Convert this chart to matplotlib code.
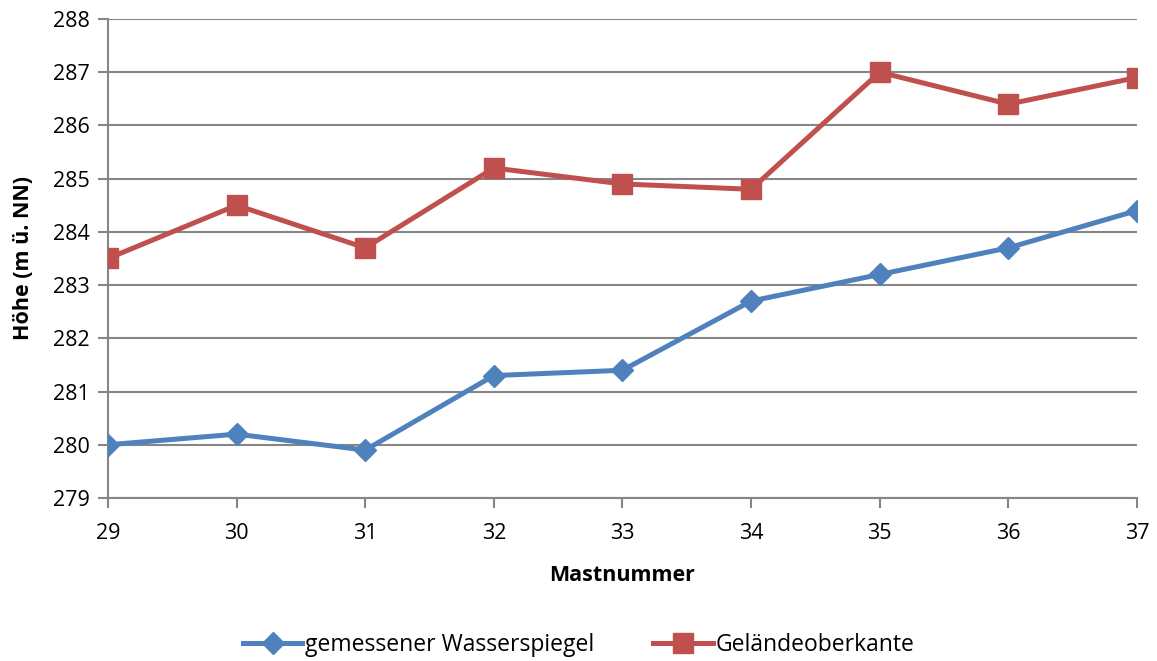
import matplotlib.pyplot as plt

# Messwerte je Mast
mast = [29, 30, 31, 32, 33, 34, 35, 36, 37]
wasserspiegel = [280.0, 280.2, 279.9, 281.3, 281.4, 282.7, 283.2, 283.7, 284.4]
gelaende = [283.5, 284.5, 283.7, 285.2, 284.9, 284.8, 287.0, 286.4, 286.9]

plt.rcParams['font.family'] = ['Open Sans', 'DejaVu Sans']
grey = '#868686'
fs = 15.5

fig = plt.figure(figsize=(11.57, 6.61), dpi=100)
ax = fig.add_axes([0.0933, 0.2466, 0.8894, 0.7247])

ax.plot(mast, wasserspiegel, color='#4F81BD', lw=3.6, marker='D', ms=11,
        label='gemessener Wasserspiegel', zorder=3)
ax.plot(mast, gelaende, color='#C0504D', lw=3.6, marker='s', ms=14,
        label='Geländeoberkante', zorder=3)

ax.set_xlim(29, 37)
ax.set_ylim(279, 288)
ax.set_xticks(mast)
ax.set_yticks(range(279, 289))
ax.grid(axis='y', color=grey, lw=1.5)
ax.set_axisbelow(True)

for side in ['top', 'right']:
    ax.spines[side].set_visible(False)
for side in ['left', 'bottom']:
    ax.spines[side].set_color(grey)
    ax.spines[side].set_linewidth(1.5)
ax.tick_params(axis='both', direction='out', color=grey, width=1.5, length=7,
               labelsize=fs)
ax.tick_params(axis='x', pad=11)
ax.tick_params(axis='y', pad=6)

ax.set_xlabel('Mastnummer', fontsize=fs, fontweight='bold', labelpad=15)
ax.set_ylabel('Höhe (m ü. NN)', fontsize=fs, fontweight='bold', labelpad=14)

fig.legend(loc='lower center', bbox_to_anchor=(0.5, -0.025), ncol=2, frameon=False,
           fontsize=16.5, handlelength=2.6, handletextpad=0.1, columnspacing=2.6)

fig.savefig('out.png', dpi=100)
